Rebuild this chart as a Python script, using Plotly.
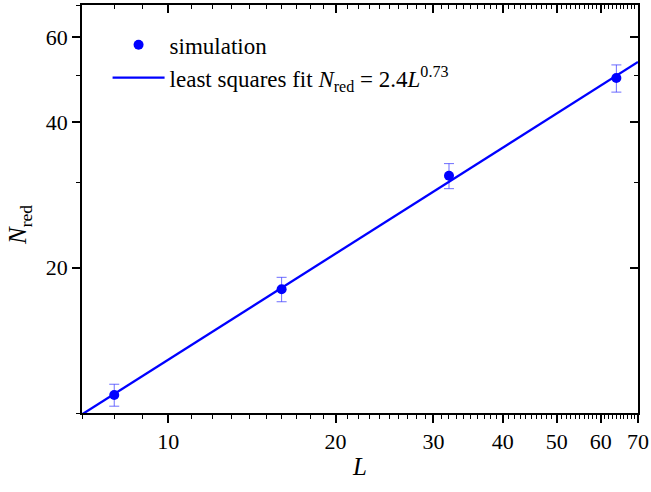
import math
import plotly.graph_objects as go

# ---- data ----
L_sim = [8, 16, 32, 64]
N_sim = [10.9, 18.05, 31.0, 49.4]
N_err = [0.57, 1.05, 1.85, 3.2]

fit_A = 2.4
fit_b = 0.73
fit_L = [7, 70]
fit_N = [fit_A * l ** fit_b for l in fit_L]

x_major = [10, 20, 30, 40, 50, 60, 70]
x_minor = [v for v in range(7, 70) if v % 10 != 0]
y_major = [20, 40, 60]
y_minor = [10, 30, 50, 70]

x_range = [math.log10(7), math.log10(70)]
y_range = [math.log10(10), math.log10(70)]

FONT = "'Liberation Serif', 'Times New Roman', Times, serif"
BLUE = "#0000ff"

fig = go.Figure()

fig.add_trace(go.Scatter(
    x=L_sim, y=N_sim, mode="markers", name="simulation",
    marker=dict(color=BLUE, size=10),
    error_y=dict(type="data", array=N_err, visible=True,
                 color="rgba(60,60,255,0.75)", thickness=1, width=5),
))

fig.add_trace(go.Scatter(
    x=fit_L, y=fit_N, mode="lines",
    name="least squares fit <i>N</i><sub>red</sub> = 2.4<i>L</i><sup>0.73</sup>",
    line=dict(color=BLUE, width=2.3),
))

# dummy trace to activate the mirrored axes
fig.add_trace(go.Scatter(
    x=[10], y=[20], xaxis="x2", yaxis="y2", mode="markers",
    marker=dict(opacity=0), showlegend=False, hoverinfo="skip",
))

axis_common = dict(type="log", showgrid=False, zeroline=False, showline=True,
                   linecolor="black", linewidth=1.5, tickcolor="black",
                   tickwidth=1.5, ticklen=8, automargin=False)

fig.update_layout(
    width=651, height=492,
    margin=dict(l=82, r=13, t=5, b=79, autoexpand=False),
    paper_bgcolor="white", plot_bgcolor="white",
    font=dict(family=FONT, size=22, color="black"),
    showlegend=True,
    legend=dict(x=0.046, y=0.955, xanchor="left", yanchor="top",
                bgcolor="rgba(0,0,0,0)", font=dict(family=FONT, size=23),
                itemwidth=52),
    xaxis=dict(**axis_common, range=x_range, ticks="outside",
               tickmode="array", tickvals=x_major,
               ticktext=[str(v) for v in x_major],
               minor=dict(tickmode="array", tickvals=x_minor, ticks="outside",
                          ticklen=4, tickwidth=1.2, tickcolor="black"),
               title=dict(text="<i>L</i>", font=dict(family=FONT, size=25), standoff=4)),
    yaxis=dict(**axis_common, range=y_range, ticks="outside",
               tickmode="array", tickvals=y_major,
               ticktext=[str(v) for v in y_major],
               minor=dict(tickmode="array", tickvals=y_minor, ticks="outside",
                          ticklen=4, tickwidth=1.2, tickcolor="black")),
    xaxis2=dict(**axis_common, range=x_range, overlaying="x", side="top",
                anchor="y2", ticks="inside", showticklabels=False,
                tickmode="array", tickvals=x_major,
                minor=dict(tickmode="array", tickvals=x_minor, ticks="inside",
                           ticklen=4, tickwidth=1.2, tickcolor="black")),
    yaxis2=dict(**axis_common, range=y_range, overlaying="y", side="right",
                anchor="x2", ticks="inside", showticklabels=False,
                tickmode="array", tickvals=y_major,
                minor=dict(tickmode="array", tickvals=y_minor, ticks="inside",
                           ticklen=4, tickwidth=1.2, tickcolor="black")),
    annotations=[dict(text="<i>N</i><sub>red</sub>", textangle=-90,
                      xref="paper", yref="paper", x=-0.112, y=0.46,
                      xanchor="center", yanchor="middle", showarrow=False,
                      font=dict(family=FONT, size=25, color="black"))],
)

fig.write_html("out.html", config={"displayModeBar": False},
               post_script="document.body.style.margin='0';document.body.style.padding='0';")
